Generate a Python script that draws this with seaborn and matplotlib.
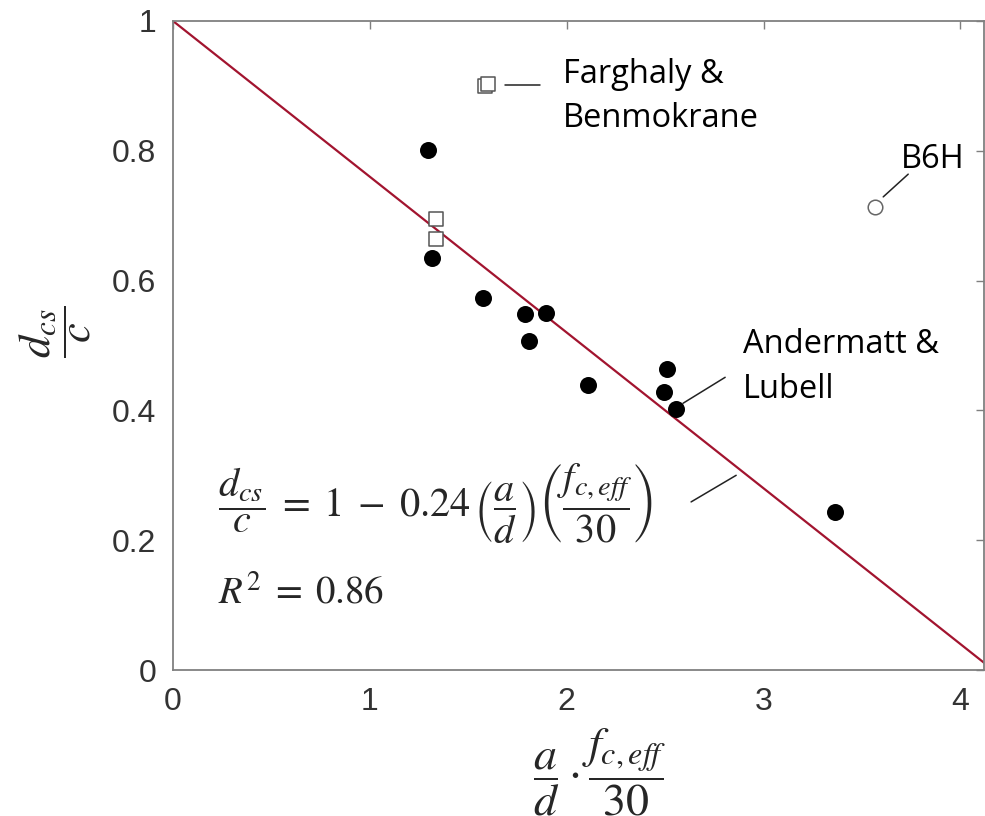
import numpy as np
import pandas as pd
import matplotlib
matplotlib.use("Agg")
import matplotlib.pyplot as plt
import seaborn as sns

# datos
this_x = [1.296, 1.316, 1.575, 1.789, 1.895, 1.809, 2.109, 2.510, 2.495, 2.556, 3.364]
this_y = [0.801, 0.635, 0.573, 0.549, 0.550, 0.507, 0.439, 0.464, 0.428, 0.402, 0.243]

fb_x = [1.336, 1.336, 1.585, 1.601]
fb_y = [0.695, 0.664, 0.900, 0.903]

b6h_x = [3.567]
b6h_y = [0.713]

fit_a = 1.0
fit_b = 0.24
fit_x = [0.0, fit_a / fit_b]

x_ticks = [0, 1, 2, 3, 4]
y_ticks = [0, 0.2, 0.4, 0.6, 0.8, 1]


def main():
    sns.set_style("white")
    plt.rcParams["font.family"] = ["Liberation Sans", "DejaVu Sans"]
    plt.rcParams["mathtext.fontset"] = "stix"

    fig = plt.figure(figsize=(9.85, 8.16), dpi=100)
    ax = fig.add_axes([173 / 985, 146 / 816, 811 / 985, 649 / 816])

    # recta de ajuste
    fit_df = pd.DataFrame({"x": fit_x, "y": [fit_a - fit_b * v for v in fit_x]})
    sns.lineplot(data=fit_df, x="x", y="y", color="#A2142F", linewidth=1.6, ax=ax, zorder=2)

    sns.scatterplot(x=this_x, y=this_y, color="black", s=150, edgecolor="black",
                    linewidth=0, marker="o", ax=ax, zorder=3)
    sns.scatterplot(x=fb_x, y=fb_y, facecolor="white", s=95, edgecolor="#555555",
                    linewidth=1.1, marker="s", ax=ax, zorder=3)
    sns.scatterplot(x=b6h_x, y=b6h_y, facecolor="white", s=110, edgecolor="#666666",
                    linewidth=1.1, marker="o", ax=ax, zorder=3)

    ax.set_xlim(0, 4.12)
    ax.set_ylim(0, 1)
    ax.set_xticks(x_ticks)
    ax.set_xticklabels([str(t) for t in x_ticks])
    ax.set_yticks(y_ticks)
    ax.set_yticklabels(["0", "0.2", "0.4", "0.6", "0.8", "1"])
    ax.tick_params(direction="in", length=6, width=1, colors="#7f7f7f",
                   top=True, right=True, labelsize=23, labelcolor="#333333", pad=12)
    for s in ax.spines.values():
        s.set_color("#808080")
        s.set_linewidth(1.3)

    # etiquetas de ejes
    ax.set_xlabel(r"$\dfrac{a}{d}\cdot\dfrac{f_{c,eff}}{30}$", fontsize=33)
    ax.xaxis.set_label_coords((600 - 173) / 811, -(772 - 670) / 649)
    ax.xaxis.label.set_verticalalignment("center")
    ax.set_ylabel(r"$\dfrac{d_{cs}}{c}$", fontsize=32)
    ax.yaxis.set_label_coords(-(173 - 55) / 811, (670 - 332) / 649)
    ax.yaxis.label.set_verticalalignment("center")

    # anotaciones
    txt = dict(fontsize=23.5, color="black", family=["Open Sans", "DejaVu Sans"])
    ax.text(1.98, 0.904, "Farghaly &", va="baseline", **txt)
    ax.text(1.98, 0.837, "Benmokrane", va="baseline", **txt)
    ax.plot([1.687, 1.865], [0.901, 0.901], color="#222222", linewidth=1.1)

    ax.text(3.70, 0.773, "B6H", va="baseline", **txt)
    ax.plot([3.608, 3.735], [0.729, 0.764], color="#222222", linewidth=1.1)

    ax.text(2.896, 0.488, "Andermatt &", va="baseline", **txt)
    ax.text(2.896, 0.419, "Lubell", va="baseline", **txt)
    ax.plot([2.591, 2.805], [0.411, 0.451], color="#222222", linewidth=1.1)

    ax.text(0.229, 0.257,
            r"$\dfrac{d_{cs}}{c}\;=\;1\;-\;0.24\,\left(\dfrac{a}{d}\right)\left(\dfrac{f_{c,eff}}{30}\right)$",
            fontsize=29, va="center", ha="left")
    ax.text(0.229, 0.103, r"$R^2\;=\;0.86$", fontsize=28, va="baseline", ha="left")
    ax.plot([2.632, 2.861], [0.259, 0.300], color="#222222", linewidth=1.1)

    fig.savefig("out.png", dpi=100)
    plt.close(fig)


if __name__ == "__main__":
    main()
